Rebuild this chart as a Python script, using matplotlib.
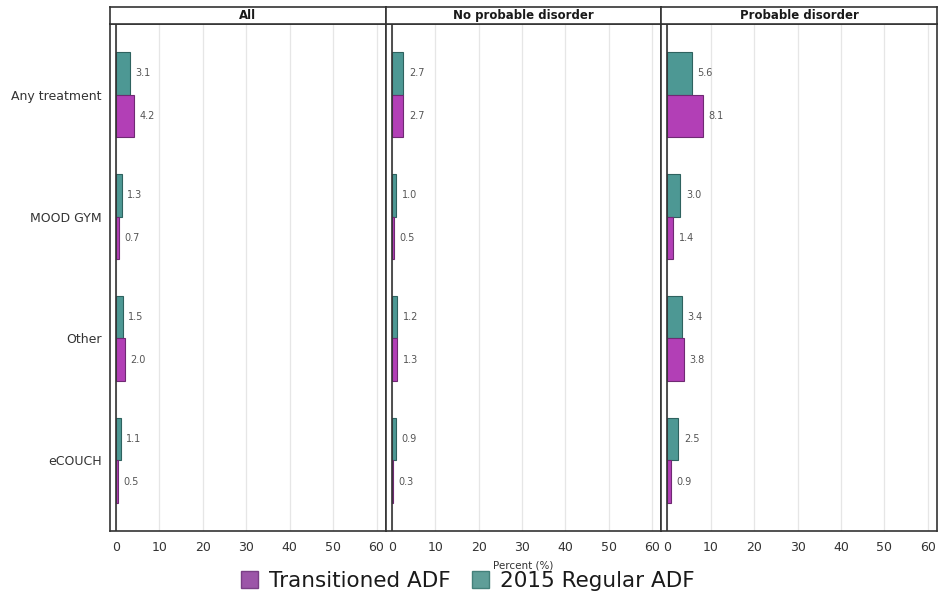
import matplotlib
matplotlib.use('Agg')
import matplotlib.pyplot as plt
from matplotlib.patches import Patch
import numpy as np

# data
categories = ['Any treatment', 'MOOD GYM', 'Other', 'eCOUCH']
panels = ['All', 'No probable disorder', 'Probable disorder']
transitioned = [
    [4.2, 0.7, 2.0, 0.5],
    [2.7, 0.5, 1.3, 0.3],
    [8.1, 1.4, 3.8, 0.9],
]
regular_2015 = [
    [3.1, 1.3, 1.5, 1.1],
    [2.7, 1.0, 1.2, 0.9],
    [5.6, 3.0, 3.4, 2.5],
]
x_ticks = [0, 10, 20, 30, 40, 50, 60]
series_names = ['Transitioned ADF', '2015 Regular ADF']

MAGENTA = '#b23fb6'
MAGENTA_EDGE = '#6f2a73'
TEAL = '#4d9894'
TEAL_EDGE = '#2e625f'
FRAME = '#333333'

W, H = 941, 605
fig = plt.figure(figsize=(W / 100, H / 100), dpi=100)

left, right = 110 / W, 937 / W
bottom, top = 1 - 531 / H, 1 - 24 / H
strip_top = 1 - 7 / H
pw = (right - left) / 3

y = np.arange(len(categories))
bh = 0.35

for i, name in enumerate(panels):
    ax = fig.add_axes([left + i * pw, bottom, pw, top - bottom])
    ax.barh(y - bh / 2, regular_2015[i], height=bh, color=TEAL,
            edgecolor=TEAL_EDGE, linewidth=0.8, zorder=3)
    ax.barh(y + bh / 2, transitioned[i], height=bh, color=MAGENTA,
            edgecolor=MAGENTA_EDGE, linewidth=0.8, zorder=3)
    for k in range(len(categories)):
        for v, yy in ((regular_2015[i][k], y[k] - bh / 2),
                      (transitioned[i][k], y[k] + bh / 2)):
            ax.annotate(f'{v:.1f}', (v, yy), xytext=(4, 0),
                        textcoords='offset points', ha='left', va='center',
                        fontsize=7, color='#555555')

    ax.set_xlim(-1.4, 62.1)
    ax.set_ylim(3.58, -0.58)
    ax.set_xticks(x_ticks)
    ax.grid(axis='x', color='#e6e6e6', linewidth=0.9, zorder=0)
    ax.axvline(0, color=FRAME, linewidth=1.2, zorder=4)
    for s in ax.spines.values():
        s.set_color(FRAME)
        s.set_linewidth(1.2)
    ax.tick_params(axis='x', length=0, pad=7, labelsize=9, labelcolor='#333333')
    if i == 0:
        ax.set_yticks(y)
        ax.set_yticklabels(categories)
        ax.tick_params(axis='y', length=0, pad=6, labelsize=9, labelcolor='#333333')
    else:
        ax.set_yticks([])

    # facet strip
    st = fig.add_axes([left + i * pw, top, pw, strip_top - top])
    st.set_xticks([])
    st.set_yticks([])
    st.set_facecolor('white')
    for s in st.spines.values():
        s.set_color(FRAME)
        s.set_linewidth(1.2)
    st.text(0.5, 0.5, name, ha='center', va='center', fontsize=8.5,
            fontweight='bold', color='#1a1a1a', transform=st.transAxes)

fig.text((left + right) / 2, 1 - 565 / H, 'Percent (%)', ha='center',
         va='center', fontsize=7.5, color='#333333')

handles = [Patch(facecolor='#9c55a8', edgecolor='#7a3f85'),
           Patch(facecolor='#5f9e98', edgecolor='#44807a')]
fig.legend(handles, series_names, loc='center', bbox_to_anchor=(0.497, 1 - 581 / H),
           ncol=2, frameon=False, fontsize=15.5, handlelength=0.8,
           handleheight=0.8, handletextpad=0.5, columnspacing=1.0,
           borderpad=0, labelcolor='#1a1a1a')

fig.savefig('out.png', dpi=100)
